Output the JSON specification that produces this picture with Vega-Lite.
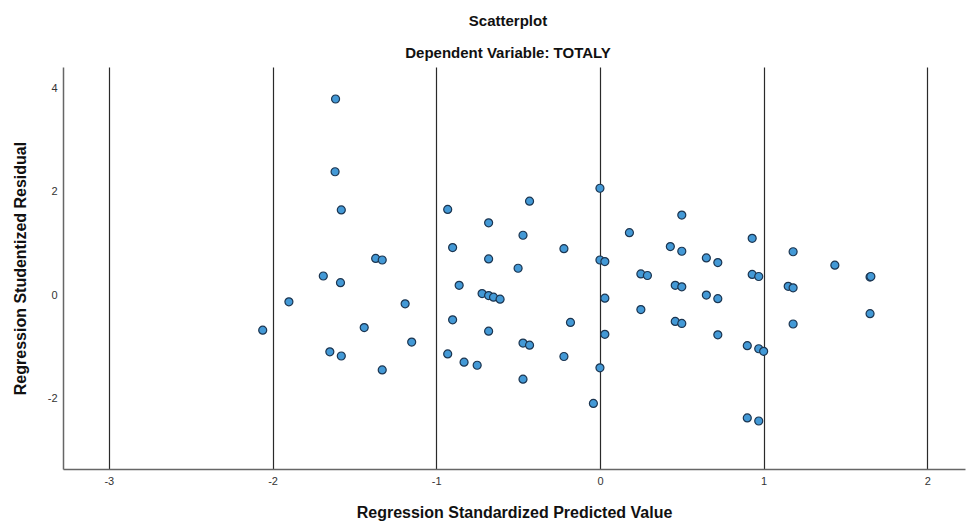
{
  "$schema": "https://vega.github.io/schema/vega-lite/v6.json",
  "width": 902,
  "height": 402,
  "autosize": {"type": "none"},
  "padding": {"left": 63, "top": 67, "right": 3, "bottom": 55},
  "background": "white",
  "config": {
    "view": {"stroke": null},
    "font": "Liberation Sans"
  },
  "title": {
    "text": ["Scatterplot", "Dependent Variable: TOTALY"],
    "fontSize": 15,
    "fontWeight": "bold",
    "font": "Liberation Sans",
    "color": "#111",
    "lineHeight": 32,
    "anchor": "middle",
    "frame": "group",
    "offset": 6,
    "dx": -6
  },
  "data": {
    "values": [
      {"pred": -2.06, "resid": -0.68},
      {"pred": -1.90, "resid": -0.13},
      {"pred": -1.69, "resid": 0.37},
      {"pred": -1.65, "resid": -1.10},
      {"pred": -1.615, "resid": 3.80},
      {"pred": -1.618, "resid": 2.39},
      {"pred": -1.58, "resid": 1.65},
      {"pred": -1.37, "resid": 0.71},
      {"pred": -1.33, "resid": 0.68},
      {"pred": -1.585, "resid": 0.24},
      {"pred": -1.19, "resid": -0.17},
      {"pred": -1.44, "resid": -0.63},
      {"pred": -1.15, "resid": -0.91},
      {"pred": -1.58, "resid": -1.18},
      {"pred": -1.33, "resid": -1.45},
      {"pred": 0.00, "resid": 2.07},
      {"pred": -0.43, "resid": 1.82},
      {"pred": -0.93, "resid": 1.66},
      {"pred": -0.68, "resid": 1.40},
      {"pred": -0.47, "resid": 1.16},
      {"pred": -0.90, "resid": 0.92},
      {"pred": -0.22, "resid": 0.90},
      {"pred": -0.68, "resid": 0.70},
      {"pred": -0.50, "resid": 0.52},
      {"pred": 0.00, "resid": 0.68},
      {"pred": 0.03, "resid": 0.65},
      {"pred": -0.86, "resid": 0.19},
      {"pred": -0.72, "resid": 0.03},
      {"pred": -0.68, "resid": -0.01},
      {"pred": -0.65, "resid": -0.04},
      {"pred": -0.61, "resid": -0.08},
      {"pred": 0.03, "resid": -0.06},
      {"pred": -0.90, "resid": -0.48},
      {"pred": -0.68, "resid": -0.70},
      {"pred": -0.18, "resid": -0.53},
      {"pred": 0.03, "resid": -0.76},
      {"pred": -0.93, "resid": -1.14},
      {"pred": -0.83, "resid": -1.30},
      {"pred": -0.75, "resid": -1.36},
      {"pred": -0.47, "resid": -0.93},
      {"pred": -0.43, "resid": -0.97},
      {"pred": -0.22, "resid": -1.19},
      {"pred": -0.47, "resid": -1.63},
      {"pred": 0.00, "resid": -1.41},
      {"pred": -0.04, "resid": -2.10},
      {"pred": 0.50, "resid": 1.55},
      {"pred": 0.18, "resid": 1.21},
      {"pred": 0.93, "resid": 1.10},
      {"pred": 0.43, "resid": 0.94},
      {"pred": 0.50, "resid": 0.85},
      {"pred": 1.18, "resid": 0.84},
      {"pred": 0.65, "resid": 0.72},
      {"pred": 0.72, "resid": 0.63},
      {"pred": 0.25, "resid": 0.41},
      {"pred": 0.29, "resid": 0.38},
      {"pred": 0.93, "resid": 0.40},
      {"pred": 0.97, "resid": 0.36},
      {"pred": 0.46, "resid": 0.19},
      {"pred": 0.50, "resid": 0.16},
      {"pred": 1.15, "resid": 0.17},
      {"pred": 1.18, "resid": 0.14},
      {"pred": 0.65, "resid": 0.00},
      {"pred": 0.72, "resid": -0.07},
      {"pred": 0.25, "resid": -0.28},
      {"pred": 0.46, "resid": -0.51},
      {"pred": 0.50, "resid": -0.55},
      {"pred": 1.18, "resid": -0.56},
      {"pred": 0.72, "resid": -0.77},
      {"pred": 0.90, "resid": -0.98},
      {"pred": 0.97, "resid": -1.04},
      {"pred": 1.00, "resid": -1.09},
      {"pred": 0.90, "resid": -2.38},
      {"pred": 0.97, "resid": -2.44},
      {"pred": 1.435, "resid": 0.58},
      {"pred": 1.65, "resid": 0.35},
      {"pred": 1.655, "resid": 0.36},
      {"pred": 1.65, "resid": -0.36}
    ]
  },
  "mark": {
    "type": "point",
    "shape": "circle",
    "filled": true,
    "size": 64,
    "fill": "#4399d6",
    "stroke": "#1c3550",
    "strokeWidth": 1.2,
    "opacity": 1
  },
  "encoding": {
    "x": {
      "field": "pred",
      "type": "quantitative",
      "scale": {"domain": [-3.28, 2.23], "nice": false, "zero": false},
      "axis": {
        "values": [-3, -2, -1, 0, 1, 2],
        "labelExpr": "'' + datum.value",
        "title": "Regression Standardized Predicted Value",
        "titleFont": "Liberation Sans",
        "titleFontSize": 16,
        "titleFontWeight": "bold",
        "titleColor": "#111",
        "titlePadding": 18,
        "labelFont": "Liberation Sans",
        "labelFontSize": 11,
        "labelColor": "#333",
        "labelPadding": 6,
        "ticks": false,
        "grid": true,
        "gridColor": "#2a2a2a",
        "gridOpacity": 1,
        "gridWidth": 1.2,
        "domainColor": "#666",
        "domainWidth": 1.5
      }
    },
    "y": {
      "field": "resid",
      "type": "quantitative",
      "scale": {"domain": [-3.37, 4.42], "nice": false, "zero": false},
      "axis": {
        "values": [-2, 0, 2, 4],
        "labelExpr": "'' + datum.value",
        "title": "Regression Studentized Residual",
        "titleFont": "Liberation Sans",
        "titleFontSize": 16,
        "titleFontWeight": "bold",
        "titleColor": "#111",
        "titlePadding": 19,
        "labelFont": "Liberation Sans",
        "labelFontSize": 11,
        "labelColor": "#333",
        "labelPadding": 6,
        "ticks": false,
        "grid": false,
        "domainColor": "#666",
        "domainWidth": 1.5
      }
    }
  }
}
